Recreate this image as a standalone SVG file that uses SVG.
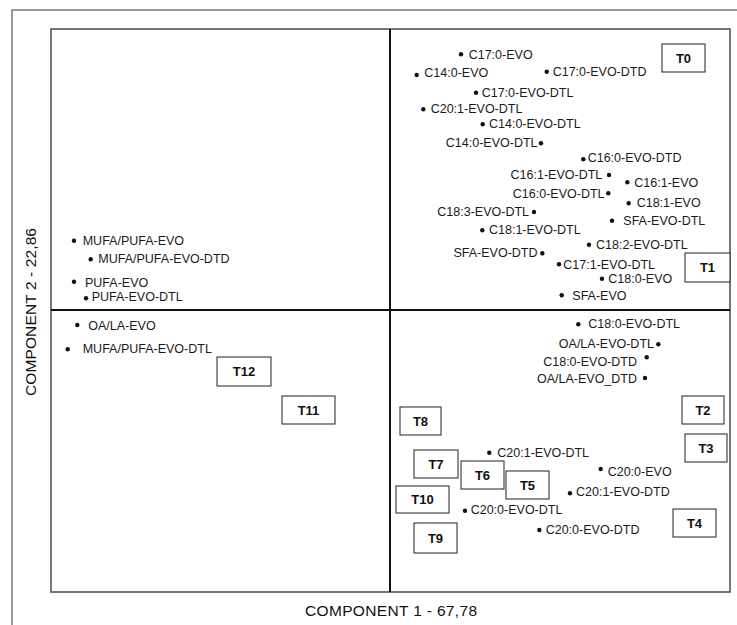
<svg xmlns="http://www.w3.org/2000/svg" width="737" height="625" viewBox="0 0 737 625">
<style>
.lbl{font-family:"Liberation Sans",Arial,sans-serif;font-size:12.5px;fill:#1a1a1a}
.box{fill:#fff;stroke:#333;stroke-width:1.1}
.bt{font-family:"Liberation Sans",Arial,sans-serif;font-size:13px;font-weight:bold;fill:#111;text-anchor:middle}
.ax{font-family:"Liberation Sans",Arial,sans-serif;font-size:15.5px;fill:#111}
.dot{fill:#111}
</style>
<rect width="737" height="625" fill="#fff"/>
<g id="frame" fill="none">
<path d="M12 625 V10 H737" stroke="#777" stroke-width="1.5"/>
<rect x="51" y="29" width="679" height="563" stroke="#555" stroke-width="1.6"/>
</g>
<g id="connectors" stroke="#111" stroke-width="2">
<line x1="390" y1="29" x2="390" y2="592"/>
<line x1="51" y1="310" x2="730" y2="310"/>
</g>
<g id="axes">
<text class="ax" x="391" y="616" text-anchor="middle" textLength="172">COMPONENT 1 - 67,78</text>
<text class="ax" transform="translate(36,312) rotate(-90)" text-anchor="middle" textLength="168">COMPONENT 2 - 22,86</text>
</g>
<g id="p1"><circle class="dot" cx="461" cy="54.3" r="2.2"/><text class="lbl" x="468.7" y="58.5">C17:0-EVO</text></g>
<g id="p2"><circle class="dot" cx="416.7" cy="75" r="2.2"/><text class="lbl" x="424.3" y="77.3">C14:0-EVO</text></g>
<g id="p3"><circle class="dot" cx="546.7" cy="71.7" r="2.2"/><text class="lbl" x="552.7" y="76">C17:0-EVO-DTD</text></g>
<g id="p4"><circle class="dot" cx="476" cy="92.7" r="2.2"/><text class="lbl" x="481.7" y="96.7">C17:0-EVO-DTL</text></g>
<g id="p5"><circle class="dot" cx="423.3" cy="109.3" r="2.2"/><text class="lbl" x="430.7" y="113.3">C20:1-EVO-DTL</text></g>
<g id="p6"><circle class="dot" cx="482.7" cy="124.3" r="2.2"/><text class="lbl" x="489" y="128.3">C14:0-EVO-DTL</text></g>
<g id="p7"><circle class="dot" cx="541" cy="143.3" r="2.2"/><text class="lbl" x="537.5" y="147.3" text-anchor="end">C14:0-EVO-DTL</text></g>
<g id="p8"><circle class="dot" cx="583.3" cy="159.3" r="2.2"/><text class="lbl" x="587.7" y="162.3">C16:0-EVO-DTD</text></g>
<g id="p9"><circle class="dot" cx="609" cy="175" r="2.2"/><text class="lbl" x="602.3" y="179.3" text-anchor="end">C16:1-EVO-DTL</text></g>
<g id="p10"><circle class="dot" cx="627.3" cy="182.3" r="2.2"/><text class="lbl" x="634.3" y="186.7">C16:1-EVO</text></g>
<g id="p11"><circle class="dot" cx="608.3" cy="193.3" r="2.2"/><text class="lbl" x="604.5" y="197.7" text-anchor="end">C16:0-EVO-DTL</text></g>
<g id="p12"><circle class="dot" cx="628.7" cy="203.3" r="2.2"/><text class="lbl" x="636.7" y="207.3">C18:1-EVO</text></g>
<g id="p13"><circle class="dot" cx="534" cy="212" r="2.2"/><text class="lbl" x="529" y="215.7" text-anchor="end">C18:3-EVO-DTL</text></g>
<g id="p14"><circle class="dot" cx="612" cy="220.7" r="2.2"/><text class="lbl" x="623.3" y="225">SFA-EVO-DTL</text></g>
<g id="p15"><circle class="dot" cx="482.3" cy="230.3" r="2.2"/><text class="lbl" x="489" y="234.3">C18:1-EVO-DTL</text></g>
<g id="p16"><circle class="dot" cx="589" cy="244.7" r="2.2"/><text class="lbl" x="596" y="248.7">C18:2-EVO-DTL</text></g>
<g id="p17"><circle class="dot" cx="542.3" cy="253.3" r="2.2"/><text class="lbl" x="537.5" y="256.7" text-anchor="end">SFA-EVO-DTD</text></g>
<g id="p18"><circle class="dot" cx="559" cy="264.3" r="2.2"/><text class="lbl" x="563.3" y="269">C17:1-EVO-DTL</text></g>
<g id="p19"><circle class="dot" cx="602" cy="278.7" r="2.2"/><text class="lbl" x="608.3" y="282.7">C18:0-EVO</text></g>
<g id="p20"><circle class="dot" cx="561.7" cy="295.3" r="2.2"/><text class="lbl" x="572.3" y="300">SFA-EVO</text></g>
<g id="p21"><circle class="dot" cx="578.3" cy="324.3" r="2.2"/><text class="lbl" x="588.3" y="328.3">C18:0-EVO-DTL</text></g>
<g id="p22"><circle class="dot" cx="658.3" cy="344.3" r="2.2"/><text class="lbl" x="654" y="348.3" text-anchor="end">OA/LA-EVO-DTL</text></g>
<g id="p23"><circle class="dot" cx="646.7" cy="357.3" r="2.2"/><text class="lbl" x="637" y="365.7" text-anchor="end">C18:0-EVO-DTD</text></g>
<g id="p24"><circle class="dot" cx="645" cy="378" r="2.2"/><text class="lbl" x="637" y="383.3" text-anchor="end">OA/LA-EVO_DTD</text></g>
<g id="p25"><circle class="dot" cx="489.3" cy="452.7" r="2.2"/><text class="lbl" x="497.3" y="456.7">C20:1-EVO-DTL</text></g>
<g id="p26"><circle class="dot" cx="600.7" cy="469" r="2.2"/><text class="lbl" x="607.7" y="475.7">C20:0-EVO</text></g>
<g id="p27"><circle class="dot" cx="570" cy="493.3" r="2.2"/><text class="lbl" x="576" y="495.5">C20:1-EVO-DTD</text></g>
<g id="p28"><circle class="dot" cx="465" cy="510.7" r="2.2"/><text class="lbl" x="470.7" y="513.5">C20:0-EVO-DTL</text></g>
<g id="p29"><circle class="dot" cx="539.3" cy="530" r="2.2"/><text class="lbl" x="545.7" y="533.5">C20:0-EVO-DTD</text></g>
<g id="p30"><circle class="dot" cx="74" cy="240.7" r="2.2"/><text class="lbl" x="82.7" y="245">MUFA/PUFA-EVO</text></g>
<g id="p31"><circle class="dot" cx="90.7" cy="259.3" r="2.2"/><text class="lbl" x="98.3" y="263.3">MUFA/PUFA-EVO-DTD</text></g>
<g id="p32"><circle class="dot" cx="74" cy="281.7" r="2.2"/><text class="lbl" x="85" y="286.7">PUFA-EVO</text></g>
<g id="p33"><circle class="dot" cx="86" cy="298.3" r="2.2"/><text class="lbl" x="91.7" y="300.7">PUFA-EVO-DTL</text></g>
<g id="p34"><circle class="dot" cx="77.3" cy="325" r="2.2"/><text class="lbl" x="88.3" y="330">OA/LA-EVO</text></g>
<g id="p35"><circle class="dot" cx="67.7" cy="349.3" r="2.2"/><text class="lbl" x="82.7" y="352.7">MUFA/PUFA-EVO-DTL</text></g>
<g id="T0"><rect class="box" x="662" y="44" width="43" height="28"/><text class="bt" x="683.5" y="62.5">T0</text></g>
<g id="T1"><rect class="box" x="685" y="253" width="45" height="29"/><text class="bt" x="707.5" y="272">T1</text></g>
<g id="T2"><rect class="box" x="682" y="396" width="42" height="28"/><text class="bt" x="703" y="414.5">T2</text></g>
<g id="T3"><rect class="box" x="685" y="434" width="42" height="28"/><text class="bt" x="706" y="452.5">T3</text></g>
<g id="T4"><rect class="box" x="673" y="509" width="43" height="28"/><text class="bt" x="694.5" y="527.5">T4</text></g>
<g id="T5"><rect class="box" x="506" y="471" width="43" height="28"/><text class="bt" x="527.5" y="489.5">T5</text></g>
<g id="T6"><rect class="box" x="461" y="461" width="43" height="28"/><text class="bt" x="482.5" y="479.5">T6</text></g>
<g id="T7"><rect class="box" x="414" y="450" width="44" height="28"/><text class="bt" x="436" y="468.5">T7</text></g>
<g id="T8"><rect class="box" x="400" y="407" width="41" height="28"/><text class="bt" x="420.5" y="425.5">T8</text></g>
<g id="T9"><rect class="box" x="414" y="523" width="43" height="30"/><text class="bt" x="435.5" y="542.5">T9</text></g>
<g id="T10"><rect class="box" x="396" y="486" width="53" height="27"/><text class="bt" x="422.5" y="504">T10</text></g>
<g id="T11"><rect class="box" x="282" y="396" width="53" height="28"/><text class="bt" x="308.5" y="414.5">T11</text></g>
<g id="T12"><rect class="box" x="217" y="357" width="54" height="29"/><text class="bt" x="244" y="376">T12</text></g>
</svg>
